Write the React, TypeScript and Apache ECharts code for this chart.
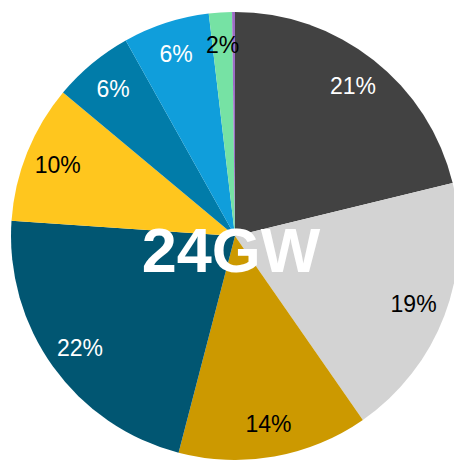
import React, { useEffect, useRef } from "react";
import * as echarts from "echarts";

const categories = ["Coal", "Gas", "Oil", "Nuclear", "Hydro", "Wind", "Solar", "Biomass", "Other"];
const values = [5.1, 4.6, 3.3, 5.3, 2.4, 1.4, 1.5, 0.4, 0.05];
const colors = ["#424242", "#d3d3d3", "#cc9900", "#015672", "#ffc61e", "#017ca9", "#109edb", "#76e2a4", "#9b6bc4"];
const labelColors = ["#ffffff", "#000000", "#000000", "#ffffff", "#000000", "#ffffff", "#ffffff", "#000000", "#000000"];
const centerText = "24GW";

export default function App() {
  const ref = useRef<HTMLDivElement>(null);
  useEffect(() => {
    const chart = echarts.init(ref.current!, null, { renderer: "svg" });
    const data = categories.map((name, i) => ({
      name,
      value: values[i],
      itemStyle: { color: colors[i] },
    }));
    const labelData = categories.map((name, i) => ({
      name,
      value: values[i],
      itemStyle: { color: "rgba(0,0,0,0)" },
      label: { color: labelColors[i], show: values[i] >= 0.3 },
    }));
    chart.setOption({
      animation: false,
      series: [
        {
          type: "pie",
          center: [235, 236],
          radius: [0, 224],
          startAngle: 90,
          clockwise: true,
          silent: true,
          label: { show: false },
          labelLine: { show: false },
          data,
        },
        {
          type: "pie",
          center: [235, 236],
          radius: [152, 224],
          startAngle: 90,
          clockwise: true,
          silent: true,
          label: {
            show: true,
            position: "inside",
            fontFamily: "Liberation Sans, Arial, sans-serif",
            fontSize: 23,
            formatter: (p: any) => Math.round(p.percent) + "%",
          },
          labelLine: { show: false },
          data: labelData,
        },
      ],
      graphic: [
        {
          type: "text",
          z: 100,
          zlevel: 1,
          x: 231,
          y: 250,
          style: {
            text: centerText,
            fill: "#ffffff",
            font: "bold 63px 'Liberation Sans', Arial, sans-serif",
            align: "center",
            verticalAlign: "middle",
          },
        },
      ],
    });
    return () => chart.dispose();
  }, []);
  return (
    <div
      ref={ref}
      style={{ position: "fixed", left: 0, top: 0, width: 454, height: 460, background: "#ffffff" }}
    />
  );
}
